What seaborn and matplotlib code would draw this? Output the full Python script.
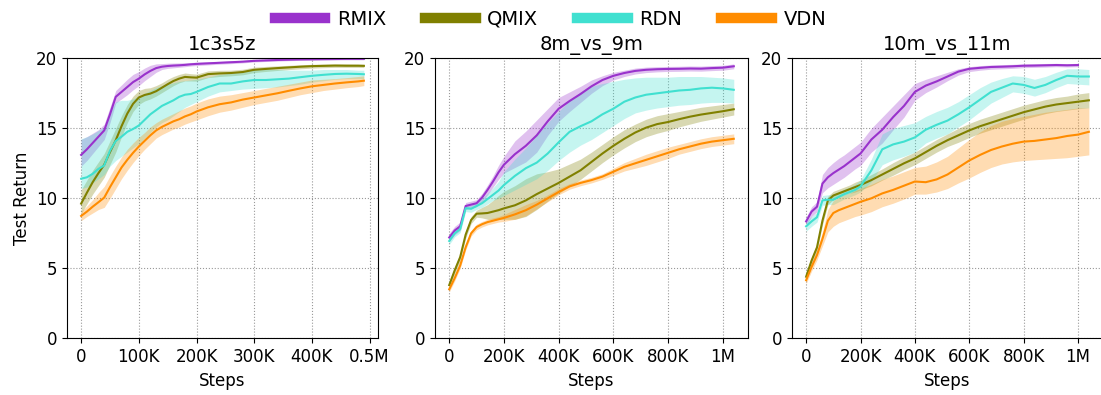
import matplotlib
matplotlib.use("Agg")
import matplotlib.pyplot as plt
from matplotlib.lines import Line2D
import numpy as np
import pandas as pd
import seaborn as sns

# ---------------- data ----------------
algos = ["RMIX", "QMIX", "RDN", "VDN"]
colors = ["#9932CC", "#808000", "#40E0D0", "#FF8C00"]
map_names = ["1c3s5z", "8m_vs_9m", "10m_vs_11m"]

ticks_1c3s5z = [0, 100, 200, 300, 400, 500]
ticklabels_1c3s5z = ["0", "100K", "200K", "300K", "400K", "0.5M"]
ticks_1m = [0, 200, 400, 600, 800, 1000]
ticklabels_1m = ["0", "200K", "400K", "600K", "800K", "1M"]
yticks = [0, 5, 10, 15, 20]

# steps in thousands
steps_1c3s5z = [0, 10, 20, 30, 40, 50, 60, 70, 80, 90, 100, 110, 120, 130, 140, 150, 160, 170, 180, 190,
                200, 220, 240, 260, 280, 300, 320, 340, 360, 380, 400, 420, 440, 460, 480, 490]
steps_1m = [0, 20, 40, 60, 80, 100, 120, 140, 160, 180, 200, 240, 280, 320, 360, 400, 440, 480, 520, 560,
            600, 640, 680, 720, 760, 800, 840, 880, 920, 960, 1000, 1040]
steps_10m_rmix = steps_1m[:31]

# ---- 1c3s5z ----
c1_rmix_mean = [13.1, 13.5, 13.95, 14.4, 14.85, 16.0, 17.25, 17.6, 17.95, 18.3, 18.55, 18.85, 19.1, 19.3, 19.4, 19.45, 19.48, 19.5, 19.53, 19.57,
                19.6, 19.64, 19.68, 19.72, 19.76, 19.82, 19.85, 19.88, 19.9, 19.92, 19.93, 19.94, 19.95, 19.96, 19.96, 19.96]
c1_rmix_lo = [12.3, 12.7, 13.2, 13.7, 14.2, 15.4, 16.8, 17.1, 17.4, 17.75, 18.05, 18.4, 18.7, 19.0, 19.2, 19.28, 19.32, 19.36, 19.4, 19.45,
              19.48, 19.53, 19.58, 19.62, 19.67, 19.74, 19.77, 19.8, 19.83, 19.85, 19.86, 19.87, 19.88, 19.89, 19.89, 19.89]
c1_rmix_hi = [14.2, 14.4, 14.65, 14.9, 15.3, 16.5, 17.7, 18.1, 18.5, 18.85, 19.05, 19.3, 19.5, 19.6, 19.62, 19.65, 19.66, 19.67, 19.68, 19.7,
              19.72, 19.75, 19.78, 19.82, 19.85, 19.9, 19.93, 19.95, 19.97, 19.98, 19.99, 20.0, 20.0, 20.0, 20.0, 20.0]

c1_qmix_mean = [9.62, 10.4, 11.15, 11.8, 12.4, 13.3, 14.15, 15.15, 16.05, 16.75, 17.2, 17.38, 17.48, 17.65, 17.9, 18.15, 18.38, 18.55, 18.67, 18.64,
                18.62, 18.87, 18.92, 18.95, 19.02, 19.18, 19.24, 19.3, 19.35, 19.4, 19.44, 19.46, 19.48, 19.47, 19.47, 19.46]
c1_qmix_lo = [8.9, 9.6, 10.3, 10.9, 11.5, 12.4, 13.3, 14.4, 15.4, 16.2, 16.7, 16.95, 17.1, 17.3, 17.55, 17.8, 18.05, 18.25, 18.38, 18.38,
              18.37, 18.62, 18.7, 18.75, 18.82, 18.98, 19.06, 19.13, 19.19, 19.25, 19.3, 19.33, 19.35, 19.35, 19.35, 19.34]
c1_qmix_hi = [10.6, 11.3, 12.0, 12.6, 13.2, 14.1, 15.0, 15.9, 16.7, 17.3, 17.7, 17.85, 17.9, 18.05, 18.25, 18.5, 18.7, 18.85, 18.95, 18.9,
              18.87, 19.1, 19.14, 19.15, 19.22, 19.37, 19.42, 19.46, 19.5, 19.54, 19.57, 19.59, 19.6, 19.6, 19.59, 19.58]

c1_rdn_mean = [11.4, 11.5, 11.75, 12.1, 12.35, 13.4, 14.1, 14.4, 14.75, 14.95, 15.2, 15.6, 16.0, 16.3, 16.6, 16.8, 17.0, 17.25, 17.4, 17.45,
               17.6, 17.95, 18.2, 18.2, 18.35, 18.45, 18.45, 18.5, 18.55, 18.65, 18.75, 18.82, 18.88, 18.9, 18.88, 18.86]
c1_rdn_lo = [10.7, 10.8, 11.1, 11.4, 11.7, 12.3, 12.7, 13.0, 13.3, 13.6, 13.9, 14.3, 14.7, 15.1, 15.4, 15.6, 15.9, 16.2, 16.5, 16.7,
             16.9, 17.3, 17.6, 17.7, 17.8, 17.85, 17.9, 17.95, 18.05, 18.15, 18.3, 18.4, 18.5, 18.55, 18.55, 18.55]
c1_rdn_hi = [14.25, 14.4, 14.6, 14.85, 15.1, 16.2, 16.9, 17.0, 17.0, 17.1, 17.3, 17.5, 17.7, 17.9, 18.05, 18.15, 18.25, 18.35, 18.4, 18.45,
             18.5, 18.65, 18.85, 18.95, 19.1, 19.2, 19.25, 19.2, 19.15, 19.15, 19.15, 19.2, 19.2, 19.2, 19.15, 19.15]

c1_vdn_mean = [8.74, 9.05, 9.4, 9.72, 10.05, 10.8, 11.5, 12.2, 12.75, 13.25, 13.7, 14.1, 14.5, 14.85, 15.1, 15.3, 15.5, 15.65, 15.85, 16.0,
               16.2, 16.5, 16.72, 16.85, 17.05, 17.2, 17.35, 17.5, 17.68, 17.85, 18.0, 18.1, 18.2, 18.28, 18.35, 18.4]
c1_vdn_lo = [8.4, 8.7, 8.95, 9.2, 9.35, 10.0, 10.7, 11.4, 12.0, 12.55, 13.05, 13.5, 13.9, 14.3, 14.55, 14.75, 14.95, 15.1, 15.3, 15.45,
             15.6, 15.9, 16.15, 16.3, 16.5, 16.7, 16.85, 17.0, 17.2, 17.4, 17.55, 17.7, 17.8, 17.9, 17.98, 18.05]
c1_vdn_hi = [9.05, 9.45, 9.9, 10.4, 10.85, 11.6, 12.3, 12.95, 13.5, 13.95, 14.35, 14.7, 15.1, 15.4, 15.65, 15.85, 16.05, 16.25, 16.45, 16.6,
             16.8, 17.1, 17.3, 17.4, 17.55, 17.7, 17.85, 18.0, 18.15, 18.3, 18.45, 18.5, 18.55, 18.62, 18.7, 18.75]

# ---- 8m_vs_9m ----
c2_rmix_mean = [7.2, 7.7, 8.0, 9.45, 9.55, 9.65, 10.05, 10.6, 11.2, 11.85, 12.4, 13.15, 13.75, 14.5, 15.5, 16.4, 16.95, 17.45, 18.0, 18.45,
                18.75, 18.95, 19.1, 19.18, 19.22, 19.24, 19.25, 19.27, 19.26, 19.3, 19.33, 19.43]
c2_rmix_lo = [6.9, 7.4, 7.7, 9.2, 9.3, 9.4, 9.75, 10.25, 10.8, 11.35, 11.8, 12.2, 12.6, 13.3, 14.5, 15.5, 16.2, 16.85, 17.5, 18.05,
              18.45, 18.7, 18.88, 18.98, 19.03, 19.06, 19.07, 19.09, 19.08, 19.12, 19.15, 19.25]
c2_rmix_hi = [7.5, 8.0, 8.3, 9.7, 9.8, 9.9, 10.35, 10.95, 11.6, 12.35, 13.0, 14.1, 14.8, 15.6, 16.4, 17.2, 17.6, 18.0, 18.45, 18.75,
              19.0, 19.15, 19.3, 19.37, 19.4, 19.42, 19.43, 19.45, 19.44, 19.48, 19.5, 19.6]

c2_qmix_mean = [3.8, 4.85, 5.8, 7.4, 8.45, 8.9, 8.92, 8.95, 9.05, 9.15, 9.28, 9.5, 9.85, 10.3, 10.7, 11.1, 11.55, 12.0, 12.6, 13.2,
                13.75, 14.25, 14.7, 15.05, 15.3, 15.45, 15.65, 15.83, 15.98, 16.1, 16.22, 16.36]
c2_qmix_lo = [3.6, 4.6, 5.55, 7.15, 8.2, 8.65, 8.6, 8.5, 8.5, 8.5, 8.5, 8.5, 8.7, 9.2, 9.8, 10.35, 10.85, 11.35, 11.95, 12.55,
              13.1, 13.6, 14.05, 14.4, 14.65, 14.85, 15.1, 15.3, 15.5, 15.65, 15.8, 15.95]
c2_qmix_hi = [4.0, 5.1, 6.05, 7.65, 8.7, 9.15, 9.35, 9.55, 9.85, 10.2, 10.5, 10.9, 11.4, 11.75, 11.9, 12.1, 12.45, 12.8, 13.3, 13.85,
              14.4, 14.9, 15.3, 15.65, 15.9, 16.05, 16.2, 16.35, 16.5, 16.6, 16.7, 16.8]

c2_rdn_mean = [6.95, 7.5, 7.8, 9.3, 9.25, 9.45, 9.65, 9.95, 10.25, 10.55, 10.95, 11.6, 12.15, 12.55, 13.2, 14.0, 14.75, 15.15, 15.5, 16.0,
               16.4, 16.9, 17.2, 17.4, 17.5, 17.6, 17.7, 17.75, 17.85, 17.9, 17.85, 17.75]
c2_rdn_lo = [6.7, 7.25, 7.55, 9.05, 9.0, 9.2, 9.35, 9.6, 9.85, 10.0, 10.2, 10.6, 11.0, 11.4, 12.0, 12.7, 13.3, 13.8, 14.2, 14.7,
             15.2, 15.7, 16.1, 16.3, 16.45, 16.55, 16.65, 16.7, 16.8, 16.85, 16.85, 16.8]
c2_rdn_hi = [7.2, 7.75, 8.05, 9.55, 9.5, 9.75, 10.0, 10.35, 10.75, 11.2, 11.9, 12.8, 13.6, 14.5, 15.4, 16.2, 17.0, 17.6, 18.0, 18.2,
             18.35, 18.5, 18.6, 18.65, 18.65, 18.65, 18.7, 18.7, 18.7, 18.65, 18.6, 18.5]

c2_vdn_mean = [3.5, 4.3, 5.2, 6.5, 7.5, 7.95, 8.15, 8.3, 8.4, 8.5, 8.6, 8.85, 9.15, 9.55, 10.0, 10.45, 10.85, 11.1, 11.3, 11.55,
               11.9, 12.25, 12.5, 12.75, 13.0, 13.25, 13.5, 13.7, 13.9, 14.05, 14.15, 14.25]
c2_vdn_lo = [3.3, 4.1, 5.0, 6.3, 7.3, 7.75, 7.95, 8.1, 8.2, 8.3, 8.35, 8.5, 8.75, 9.25, 9.75, 10.25, 10.65, 10.9, 11.1, 11.35,
             11.65, 11.95, 12.15, 12.35, 12.6, 12.85, 13.15, 13.35, 13.55, 13.7, 13.8, 13.9]
c2_vdn_hi = [3.7, 4.5, 5.4, 6.7, 7.7, 8.15, 8.35, 8.5, 8.6, 8.7, 8.85, 9.2, 9.55, 9.85, 10.25, 10.7, 11.05, 11.3, 11.5, 11.75,
             12.15, 12.55, 12.85, 13.15, 13.4, 13.65, 13.85, 14.05, 14.25, 14.4, 14.5, 14.6]

# ---- 10m_vs_11m ----
c3_rmix_mean = [8.35, 9.05, 9.4, 11.05, 11.5, 11.8, 12.05, 12.3, 12.6, 12.9, 13.2, 14.2, 14.9, 15.8, 16.6, 17.6, 18.05, 18.35, 18.7, 19.05,
                19.25, 19.32, 19.38, 19.4, 19.43, 19.47, 19.48, 19.5, 19.52, 19.5, 19.52]
c3_rmix_lo = [8.05, 8.7, 9.05, 10.4, 10.75, 11.0, 11.25, 11.5, 11.8, 12.1, 12.35, 13.3, 13.95, 14.9, 15.8, 17.0, 17.55, 17.95, 18.4, 18.8,
              19.05, 19.15, 19.22, 19.25, 19.28, 19.33, 19.35, 19.37, 19.4, 19.38, 19.4]
c3_rmix_hi = [8.65, 9.4, 9.75, 11.7, 12.2, 12.55, 12.85, 13.1, 13.4, 13.7, 14.0, 15.0, 15.8, 16.6, 17.4, 18.2, 18.5, 18.75, 19.0, 19.25,
              19.4, 19.48, 19.52, 19.55, 19.57, 19.6, 19.62, 19.63, 19.64, 19.62, 19.64]

c3_qmix_mean = [4.4, 5.55, 6.5, 8.4, 9.85, 10.2, 10.35, 10.5, 10.65, 10.8, 10.95, 11.3, 11.7, 12.1, 12.5, 12.85, 13.3, 13.75, 14.15, 14.5,
                14.85, 15.15, 15.4, 15.65, 15.9, 16.15, 16.35, 16.55, 16.7, 16.8, 16.9, 17.0]
c3_qmix_lo = [4.15, 5.3, 6.25, 8.1, 9.55, 9.9, 10.05, 10.2, 10.35, 10.45, 10.6, 10.9, 11.3, 11.65, 12.05, 12.4, 12.85, 13.3, 13.7, 14.0,
              14.35, 14.65, 14.9, 15.15, 15.4, 15.65, 15.85, 16.05, 16.2, 16.3, 16.4, 16.45]
c3_qmix_hi = [4.65, 5.8, 6.75, 8.7, 10.15, 10.5, 10.65, 10.8, 10.95, 11.15, 11.3, 11.7, 12.1, 12.55, 12.95, 13.3, 13.75, 14.2, 14.6, 15.0,
              15.35, 15.65, 15.9, 16.15, 16.4, 16.65, 16.85, 17.05, 17.2, 17.3, 17.45, 17.55]

c3_rdn_mean = [8.0, 8.35, 8.65, 9.85, 9.9, 9.9, 10.1, 10.3, 10.45, 10.6, 10.85, 12.0, 13.5, 13.85, 14.05, 14.35, 14.9, 15.25, 15.55, 16.0,
               16.5, 17.05, 17.6, 17.9, 18.2, 18.1, 17.88, 18.1, 18.45, 18.75, 18.7, 18.7]
c3_rdn_lo = [7.65, 8.0, 8.3, 9.5, 9.55, 9.55, 9.75, 9.95, 10.1, 10.25, 10.45, 11.2, 12.4, 12.75, 13.0, 13.3, 13.95, 14.3, 14.6, 15.1,
             15.6, 16.2, 16.8, 17.2, 17.6, 17.5, 17.3, 17.55, 17.9, 18.2, 18.15, 18.1]
c3_rdn_hi = [8.35, 8.7, 9.0, 10.2, 10.25, 10.25, 10.45, 10.65, 10.8, 11.0, 11.3, 12.8, 14.6, 15.0, 15.2, 15.4, 15.85, 16.2, 16.5, 16.9,
             17.4, 17.9, 18.3, 18.55, 18.75, 18.7, 18.5, 18.7, 19.0, 19.25, 19.25, 19.2]

c3_vdn_mean = [4.15, 5.1, 5.95, 7.1, 8.4, 8.95, 9.15, 9.3, 9.45, 9.6, 9.75, 10.0, 10.35, 10.6, 10.9, 11.2, 11.15, 11.35, 11.7, 12.2,
               12.7, 13.1, 13.45, 13.7, 13.9, 14.05, 14.1, 14.2, 14.3, 14.45, 14.55, 14.75]
c3_vdn_lo = [3.9, 4.8, 5.6, 6.6, 7.6, 8.0, 8.25, 8.4, 8.55, 8.7, 8.8, 9.05, 9.4, 9.65, 9.95, 10.3, 10.3, 10.45, 10.7, 11.1,
             11.45, 11.85, 12.2, 12.45, 12.6, 12.7, 12.75, 12.8, 12.85, 12.9, 13.0, 13.1]
c3_vdn_hi = [4.4, 5.4, 6.3, 7.6, 9.2, 9.85, 10.05, 10.2, 10.35, 10.55, 10.7, 11.0, 11.35, 11.6, 11.9, 12.2, 12.3, 12.6, 13.0, 13.6,
             14.2, 14.75, 15.2, 15.5, 15.7, 15.85, 16.0, 16.15, 16.25, 16.35, 16.45, 16.45]

panels = [
    {"steps": {"RMIX": steps_1c3s5z, "QMIX": steps_1c3s5z, "RDN": steps_1c3s5z, "VDN": steps_1c3s5z},
     "mean": {"RMIX": c1_rmix_mean, "QMIX": c1_qmix_mean, "RDN": c1_rdn_mean, "VDN": c1_vdn_mean},
     "lo": {"RMIX": c1_rmix_lo, "QMIX": c1_qmix_lo, "RDN": c1_rdn_lo, "VDN": c1_vdn_lo},
     "hi": {"RMIX": c1_rmix_hi, "QMIX": c1_qmix_hi, "RDN": c1_rdn_hi, "VDN": c1_vdn_hi},
     "ticks": ticks_1c3s5z, "labels": ticklabels_1c3s5z, "xmax": 490},
    {"steps": {"RMIX": steps_1m, "QMIX": steps_1m, "RDN": steps_1m, "VDN": steps_1m},
     "mean": {"RMIX": c2_rmix_mean, "QMIX": c2_qmix_mean, "RDN": c2_rdn_mean, "VDN": c2_vdn_mean},
     "lo": {"RMIX": c2_rmix_lo, "QMIX": c2_qmix_lo, "RDN": c2_rdn_lo, "VDN": c2_vdn_lo},
     "hi": {"RMIX": c2_rmix_hi, "QMIX": c2_qmix_hi, "RDN": c2_rdn_hi, "VDN": c2_vdn_hi},
     "ticks": ticks_1m, "labels": ticklabels_1m, "xmax": 1040},
    {"steps": {"RMIX": steps_10m_rmix, "QMIX": steps_1m, "RDN": steps_1m, "VDN": steps_1m},
     "mean": {"RMIX": c3_rmix_mean, "QMIX": c3_qmix_mean, "RDN": c3_rdn_mean, "VDN": c3_vdn_mean},
     "lo": {"RMIX": c3_rmix_lo, "QMIX": c3_qmix_lo, "RDN": c3_rdn_lo, "VDN": c3_vdn_lo},
     "hi": {"RMIX": c3_rmix_hi, "QMIX": c3_qmix_hi, "RDN": c3_rdn_hi, "VDN": c3_vdn_hi},
     "ticks": ticks_1m, "labels": ticklabels_1m, "xmax": 1040},
]

# ---------------- plotting ----------------
plt.rcParams["font.family"] = ["DejaVu Sans"]
palette = dict(zip(algos, colors))

W, H = 1101, 395
fig = plt.figure(figsize=(W / 100, H / 100), dpi=100)
axes_px = [(67, 311), (435, 313), (792, 311)]
ax_bottom, ax_height = 56.7, 280

for i, (pan, (left, width)) in enumerate(zip(panels, axes_px)):
    ax = fig.add_axes([left / W, ax_bottom / H, width / W, ax_height / H])
    frames = []
    for a in algos:
        x = np.array(pan["steps"][a]) * 1000
        ax.fill_between(x, pan["lo"][a], pan["hi"][a], color=palette[a], alpha=0.3, linewidth=0)
        frames.append(pd.DataFrame({"step": x, "ret": pan["mean"][a], "algo": a}))
    df = pd.concat(frames, ignore_index=True)
    sns.lineplot(data=df, x="step", y="ret", hue="algo", hue_order=algos, palette=palette,
                 errorbar=None, linewidth=1.5, legend=False, ax=ax, sort=False)
    xmax = pan["xmax"] * 1000
    ax.set_xlim(-0.05 * xmax, 1.05 * xmax)
    ax.set_ylim(0, 20)
    ax.set_xticks(np.array(pan["ticks"]) * 1000)
    ax.set_xticklabels(pan["labels"])
    ax.set_yticks(yticks)
    ax.tick_params(labelsize=12)
    ax.grid(True, linestyle=":", color="#999999", linewidth=0.8)
    ax.set_axisbelow(True)
    ax.set_title(map_names[i], fontsize=14)
    ax.set_xlabel("Steps", fontsize=12)
    ax.set_ylabel("Test Return" if i == 0 else "", fontsize=12)

handles = [Line2D([0], [0], color=c, lw=7.5) for c in colors]
fig.legend(handles, algos, loc="upper center", bbox_to_anchor=(0.5, 1.02), ncol=4, frameon=False,
           fontsize=14, handlelength=2.6, columnspacing=2.0, handletextpad=0.6)

fig.savefig("out.png", dpi=100)
